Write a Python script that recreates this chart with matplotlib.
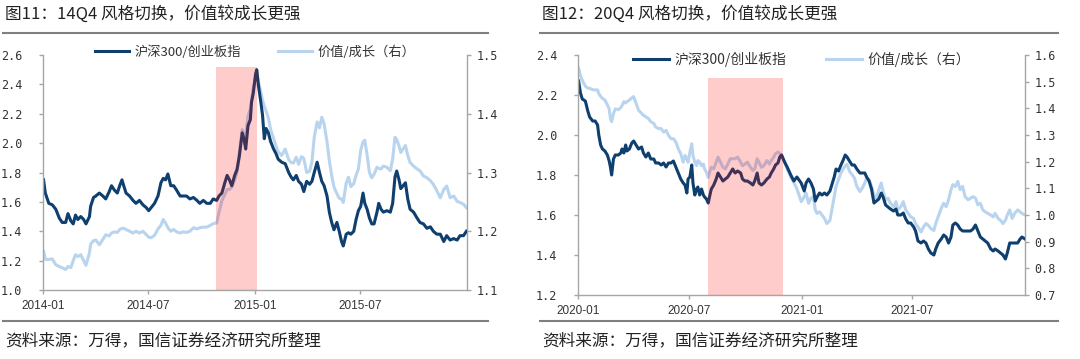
import matplotlib
matplotlib.use('Agg')
import matplotlib.pyplot as plt
import matplotlib.dates as mdates
from matplotlib.lines import Line2D
import pandas as pd

plt.rcParams['font.family'] = ['Noto Sans CJK SC', 'DejaVu Sans']

DARK = '#0e3f6e'
LIGHT = '#b8d4ee'
GRID = '#a6a6a6'
TXT = '#333333'

# ---- figure 11: 2014-2015 (days counted from base date) ----
base14 = '2014-01-01'
days14 = [1, 4, 10, 16, 22, 28, 33, 39, 43, 48,
          52, 56, 60, 65, 70, 74, 80, 82, 87, 91,
          97, 103, 108, 114, 118, 123, 128, 132, 136, 139,
          143, 149, 155, 160, 166, 172, 178, 182, 186, 192,
          198, 203, 207, 211, 215, 220, 225, 230, 236, 241,
          247, 253, 259, 265, 270, 276, 282, 288, 293, 299,
          303, 308, 313, 317, 321, 325, 330, 334, 338, 343,
          346, 349, 353, 357, 359, 362,
          366, 368, 371, 375, 378, 381, 384, 388, 392, 397,
          401, 405, 411, 417, 423, 427, 431, 436, 440, 445,
          449, 454, 459, 463, 467, 472, 476, 480, 484, 489,
          493, 497, 501, 506, 510, 514, 517, 522, 526, 530,
          535, 539, 543, 547, 551, 554, 558, 562, 566, 570,
          575, 578, 582, 586, 592, 598, 602, 606, 609, 613,
          616, 624, 628, 632, 638, 644, 649, 655, 661, 667,
          672, 678, 684, 690, 695, 701, 707, 713, 718, 724,
          729]
hs_cyb14 = [1.75, 1.66, 1.59, 1.58, 1.55, 1.49, 1.46, 1.46, 1.52, 1.47,
            1.45, 1.51, 1.48, 1.50, 1.48, 1.45, 1.50, 1.57, 1.63, 1.64,
            1.66, 1.64, 1.62, 1.67, 1.71, 1.68, 1.66, 1.71, 1.75, 1.71,
            1.66, 1.64, 1.61, 1.59, 1.61, 1.58, 1.56, 1.54, 1.56, 1.59,
            1.64, 1.73, 1.76, 1.75, 1.79, 1.71, 1.71, 1.68, 1.64, 1.64,
            1.64, 1.62, 1.63, 1.61, 1.59, 1.61, 1.59, 1.59, 1.62, 1.61,
            1.64, 1.66, 1.73, 1.78, 1.75, 1.71, 1.78, 1.82, 1.91, 2.07,
            2.03, 1.96, 2.12, 2.16, 2.28, 2.34,
            2.47, 2.50, 2.39, 2.28, 2.19, 2.03, 2.10, 2.07, 2.01, 1.96,
            1.93, 1.89, 1.87, 1.86, 1.80, 1.77, 1.75, 1.78, 1.74, 1.72,
            1.67, 1.74, 1.72, 1.74, 1.80, 1.87, 1.80, 1.74, 1.71, 1.64,
            1.53, 1.46, 1.41, 1.46, 1.40, 1.33, 1.30, 1.38, 1.39, 1.38,
            1.40, 1.48, 1.54, 1.57, 1.66, 1.59, 1.55, 1.49, 1.45, 1.45,
            1.53, 1.59, 1.55, 1.53, 1.54, 1.53, 1.59, 1.77, 1.81, 1.75,
            1.69, 1.73, 1.62, 1.55, 1.53, 1.49, 1.46, 1.45, 1.42, 1.43,
            1.40, 1.38, 1.38, 1.33, 1.37, 1.34, 1.35, 1.34, 1.37, 1.37,
            1.40]
val_gro14 = [1.166, 1.152, 1.152, 1.153, 1.143, 1.140, 1.138, 1.135, 1.140, 1.138,
             1.150, 1.160, 1.157, 1.160, 1.150, 1.142, 1.163, 1.178, 1.184, 1.185,
             1.177, 1.186, 1.194, 1.192, 1.197, 1.199, 1.198, 1.203, 1.205, 1.205,
             1.203, 1.200, 1.197, 1.200, 1.197, 1.200, 1.194, 1.190, 1.189, 1.193,
             1.204, 1.210, 1.220, 1.214, 1.206, 1.200, 1.203, 1.199, 1.197, 1.199,
             1.198, 1.200, 1.206, 1.204, 1.206, 1.207, 1.207, 1.210, 1.213, 1.214,
             1.232, 1.252, 1.262, 1.271, 1.271, 1.275, 1.287, 1.300, 1.334, 1.373,
             1.365, 1.362, 1.396, 1.408, 1.420, 1.445,
             1.460, 1.471, 1.454, 1.437, 1.423, 1.413, 1.405, 1.393, 1.373, 1.358,
             1.346, 1.335, 1.329, 1.340, 1.322, 1.317, 1.316, 1.326, 1.314, 1.327,
             1.324, 1.300, 1.302, 1.318, 1.360, 1.386, 1.376, 1.394, 1.383, 1.352,
             1.320, 1.295, 1.275, 1.264, 1.256, 1.255, 1.249, 1.282, 1.292, 1.276,
             1.281, 1.295, 1.306, 1.338, 1.352, 1.355, 1.330, 1.300, 1.291, 1.297,
             1.309, 1.307, 1.306, 1.311, 1.309, 1.303, 1.323, 1.360, 1.356, 1.345,
             1.334, 1.346, 1.329, 1.317, 1.311, 1.306, 1.303, 1.294, 1.291, 1.286,
             1.280, 1.269, 1.257, 1.271, 1.277, 1.257, 1.260, 1.251, 1.249, 1.246,
             1.240]
shade14 = ('2014-10-26', '2015-01-05')
xticks14 = ['2014-01', '2014-07', '2015-01', '2015-07']

# ---- figure 12: 2020-2021 ----
base20 = '2020-01-01'
days20 = [1, 4, 7, 12, 16, 19, 24, 28, 32, 34,
          37, 40, 44, 48, 51, 53, 55, 58, 61, 66,
          70, 72, 75, 78, 80, 84, 88, 91, 95, 99,
          104, 107, 111, 115, 119, 124, 127, 132, 136, 140,
          144, 148, 152, 156, 160, 164, 168, 172, 175, 178,
          180, 183, 186, 188, 191, 194, 196, 199, 202, 205,
          207, 210, 213, 215, 218, 222, 226, 229, 233, 237,
          241, 245, 249, 253, 257, 261, 266, 269, 273, 277,
          282, 286, 289, 293, 296, 300, 304, 309, 313, 316,
          320, 323, 327, 330, 333, 337, 342, 348, 353, 358,
          365,
          370, 373, 377, 381, 385, 388, 391, 395, 399,
          403, 407, 412, 415, 419, 422, 426, 430, 433, 437,
          440, 444, 448, 452, 456, 461, 465, 469, 472, 476,
          480, 484, 488, 492, 496, 499, 503, 507, 511, 516,
          520, 523, 528, 532, 536, 540, 544, 549, 552, 556,
          561, 565, 569, 573, 577, 582, 585, 589, 594, 598,
          602, 606, 610, 613, 617, 621, 625, 629, 633, 638,
          642, 646, 650, 654, 658, 662, 666, 670, 675, 679,
          682, 687, 691, 695, 699, 702, 706, 710, 714, 719,
          723, 726, 731]
hs_cyb20 = [2.27, 2.21, 2.18, 2.17, 2.12, 2.09, 2.07, 2.07, 2.05, 2.00,
            1.95, 1.93, 1.92, 1.90, 1.87, 1.84, 1.80, 1.88, 1.90, 1.90,
            1.91, 1.93, 1.91, 1.95, 1.92, 1.93, 1.96, 1.97, 1.95, 1.93,
            1.94, 1.91, 1.89, 1.91, 1.88, 1.88, 1.86, 1.86, 1.85, 1.86,
            1.84, 1.86, 1.86, 1.87, 1.84, 1.81, 1.78, 1.76, 1.75, 1.71,
            1.78, 1.79, 1.85, 1.76, 1.70, 1.73, 1.74, 1.70, 1.73, 1.70,
            1.69, 1.68, 1.66, 1.69, 1.73, 1.75, 1.78, 1.81, 1.79, 1.77,
            1.78, 1.79, 1.81, 1.83, 1.81, 1.82, 1.81, 1.78, 1.77, 1.77,
            1.76, 1.75, 1.77, 1.81, 1.76, 1.75, 1.76, 1.78, 1.79, 1.81,
            1.83, 1.85, 1.86, 1.89, 1.90, 1.87, 1.84, 1.80, 1.77, 1.79,
            1.76,
            1.72, 1.76, 1.78, 1.76, 1.73, 1.67, 1.69, 1.71, 1.70,
            1.71, 1.70, 1.72, 1.75, 1.79, 1.83, 1.82, 1.85, 1.87, 1.90,
            1.89, 1.87, 1.85, 1.85, 1.83, 1.81, 1.81, 1.81, 1.79, 1.77,
            1.73, 1.66, 1.67, 1.68, 1.71, 1.69, 1.65, 1.64, 1.63, 1.62,
            1.63, 1.60, 1.60, 1.61, 1.58, 1.56, 1.56, 1.54, 1.52, 1.47,
            1.46, 1.47, 1.46, 1.43, 1.41, 1.40, 1.43, 1.46, 1.48, 1.50,
            1.49, 1.46, 1.49, 1.55, 1.56, 1.55, 1.53, 1.52, 1.52, 1.52,
            1.52, 1.53, 1.55, 1.52, 1.49, 1.48, 1.47, 1.46, 1.43, 1.42,
            1.43, 1.42, 1.41, 1.40, 1.38, 1.41, 1.46, 1.46, 1.46, 1.46,
            1.48, 1.49, 1.48]
val_gro20 = [1.551, 1.522, 1.505, 1.483, 1.476, 1.475, 1.470, 1.469, 1.469, 1.455,
             1.445, 1.437, 1.431, 1.413, 1.398, 1.362, 1.350, 1.380, 1.398, 1.395,
             1.403, 1.410, 1.425, 1.420, 1.425, 1.431, 1.439, 1.444, 1.419, 1.393,
             1.381, 1.374, 1.368, 1.362, 1.350, 1.343, 1.330, 1.324, 1.324, 1.311,
             1.317, 1.299, 1.286, 1.286, 1.274, 1.248, 1.230, 1.198, 1.223, 1.211,
             1.198, 1.236, 1.267, 1.223, 1.198, 1.185, 1.204, 1.198, 1.185, 1.191,
             1.173, 1.160, 1.141, 1.160, 1.179, 1.173, 1.198, 1.217, 1.198, 1.179,
             1.173, 1.191, 1.211, 1.211, 1.211, 1.217, 1.198, 1.185, 1.191, 1.198,
             1.179, 1.167, 1.173, 1.211, 1.198, 1.179, 1.185, 1.204, 1.191, 1.204,
             1.217, 1.230, 1.236, 1.230, 1.223, 1.204, 1.173, 1.141, 1.122, 1.098,
             1.050,
             1.069, 1.082, 1.044, 1.063, 1.069, 1.019, 1.006, 1.012, 1.000,
             0.987, 0.968, 0.980, 1.019, 1.069, 1.107, 1.133, 1.158, 1.171, 1.184,
             1.190, 1.164, 1.152, 1.139, 1.107, 1.088, 1.101, 1.120, 1.139, 1.133,
             1.107, 1.076, 1.063, 1.095, 1.120, 1.088, 1.057, 1.063, 1.044, 1.031,
             1.050, 1.019, 1.031, 1.050, 1.019, 1.006, 0.993, 0.987, 0.968, 0.955,
             0.936, 0.955, 0.968, 0.961, 0.949, 0.942, 0.968, 0.993, 1.025, 1.044,
             1.031, 1.057, 1.095, 1.114, 1.107, 1.126, 1.095, 1.107, 1.069, 1.057,
             1.063, 1.069, 1.063, 1.038, 1.044, 1.019, 1.012, 1.006, 1.000, 0.993,
             1.006, 0.987, 0.980, 0.968, 0.980, 1.000, 1.019, 0.987, 1.006, 1.019,
             1.012, 1.006, 1.000]
shade20 = ('2020-08-01', '2020-12-01')
xticks20 = ['2020-01', '2020-07', '2021-01', '2021-07']

title11 = '图11：14Q4 风格切换，价值较成长更强'
title12 = '图12：20Q4 风格切换，价值较成长更强'
source = '资料来源：万得，国信证券经济研究所整理'
lab_dark = '沪深300/创业板指'
lab_light = '价值/成长（右）'


def panel(fig, rect, base, days, dark, light, shade, shade_top, xticks,
          xlim, ylim1, ylim2, leg_y, leg_fs):
    dates = pd.Timestamp(base) + pd.to_timedelta(days, unit='D')
    ax2 = fig.add_axes(rect)
    ax1 = ax2.twinx()  # dark series drawn above the light one
    ax1.yaxis.tick_left()
    ax2.yaxis.tick_right()
    ax1.patch.set_visible(False)

    l2, = ax2.plot(dates, light, color=LIGHT, lw=2.2)
    l1, = ax1.plot(dates, dark, color=DARK, lw=2.2)
    ax1.axvspan(pd.Timestamp(shade[0]), pd.Timestamp(shade[1]), ymin=0,
                ymax=shade_top, color='#ff0000', alpha=0.2, lw=0, zorder=5)

    ax1.set_xlim(pd.Timestamp(xlim[0]), pd.Timestamp(xlim[1]))
    ax1.set_ylim(*ylim1)
    ax2.set_ylim(*ylim2)
    ax1.set_yticks([round(ylim1[0] + 0.2 * i, 1) for i in range(int(round((ylim1[1] - ylim1[0]) / 0.2)) + 1)])
    ax2.set_yticks([round(ylim2[0] + 0.1 * i, 1) for i in range(int(round((ylim2[1] - ylim2[0]) / 0.1)) + 1)])
    ax1.yaxis.set_major_formatter(plt.FormatStrFormatter('%.1f'))
    ax2.yaxis.set_major_formatter(plt.FormatStrFormatter('%.1f'))
    ax2.set_xticks([pd.Timestamp(t) for t in xticks])
    ax2.xaxis.set_major_formatter(mdates.DateFormatter('%Y-%m'))

    for ax in (ax1, ax2):
        for s in ax.spines.values():
            s.set_visible(False)
            s.set_color(GRID)
            s.set_linewidth(1.0)
    ax1.spines['left'].set_visible(True)
    ax2.spines['bottom'].set_visible(True)
    ax2.spines['right'].set_visible(True)

    ax1.tick_params(axis='y', direction='out', length=3, width=1, color=GRID,
                    pad=12, labelsize=8.5, labelcolor=TXT)
    ax2.tick_params(axis='y', direction='out', length=3, width=1, color=GRID,
                    pad=4, labelsize=8.5, labelcolor=TXT)
    ax2.tick_params(axis='x', direction='out', length=3, width=1, color=GRID,
                    pad=4, labelsize=8.5, labelcolor=TXT)
    for lab in ax1.get_yticklabels() + ax2.get_yticklabels():
        lab.set_family(['DejaVu Sans Mono'])
    for lab in ax2.get_xticklabels():
        lab.set_family(['Liberation Sans', 'DejaVu Sans'])

    ax1.legend([l1, l2], [lab_dark, lab_light], loc='center',
               bbox_to_anchor=(0.5, leg_y), ncol=2, frameon=False,
               fontsize=leg_fs, handlelength=2.6, handletextpad=0.4,
               columnspacing=2.8, borderaxespad=0, labelcolor=TXT)
    return ax1, ax2


fig = plt.figure(figsize=(10.8, 3.59), dpi=100)
W, H = 1080, 359

panel(fig, [43 / W, 1 - 290 / H, 424 / W, 235 / H], base14, days14,
      hs_cyb14, val_gro14, shade14, 0.95, xticks14,
      ('2014-01-01', '2016-01-01'), (1.0, 2.6), (1.1, 1.5), 1.013, 9.5)
panel(fig, [578 / W, 1 - 295 / H, 447 / W, 240 / H], base20, days20,
      hs_cyb20, val_gro20, shade20, 0.904, xticks20,
      ('2020-01-01', '2022-01-01'), (1.2, 2.4), (0.7, 1.6), 0.983, 10)

for x0, x1, title in ((3, 488, title11), (540, 1058, title12)):
    fig.text((x0 + 2) / W, 1 - 14 / H, title, fontsize=12, color='#222222',
             va='center', ha='left')
    fig.text((x0 + 2) / W, 1 - 341 / H, source, fontsize=12, color='#222222',
             va='center', ha='left')
    for y in (33, 321):
        fig.add_artist(Line2D([x0 / W, x1 / W], [1 - y / H, 1 - y / H],
                              transform=fig.transFigure, color='#808080', lw=1.5))

fig.savefig('out.png', dpi=100)
